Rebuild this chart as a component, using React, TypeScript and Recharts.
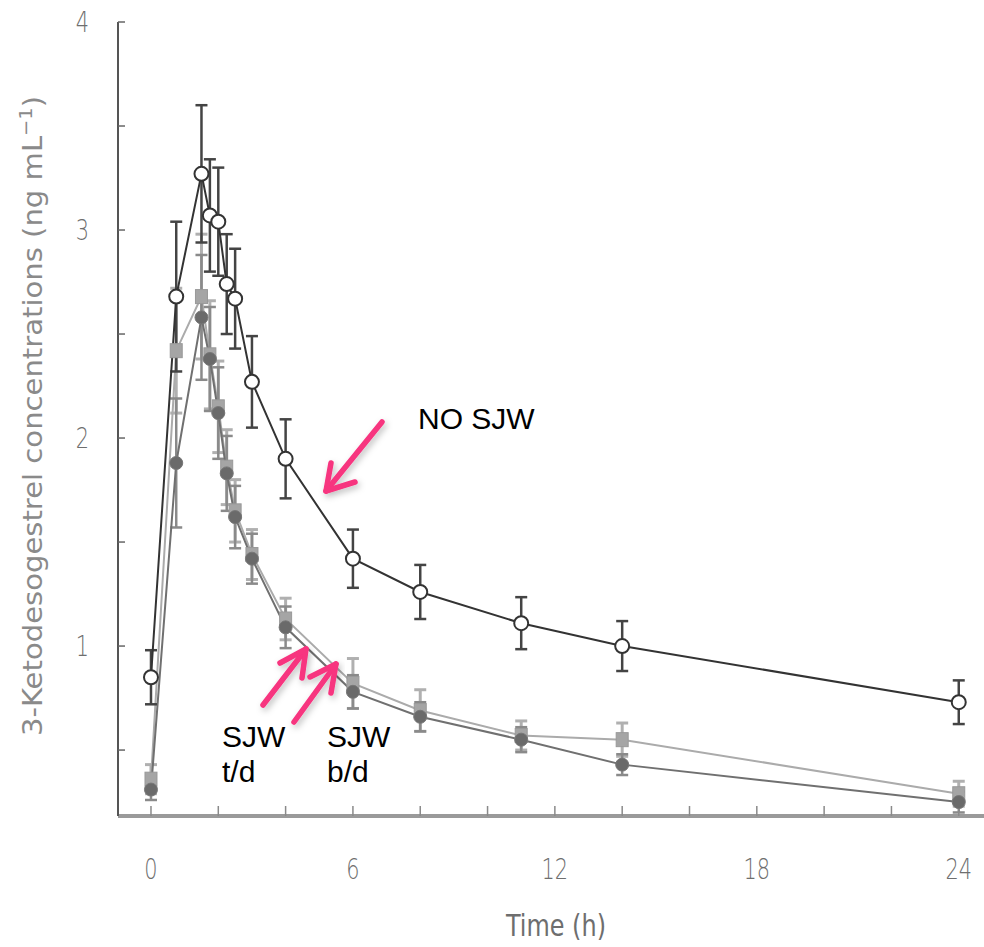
import React from 'react';
import { ComposedChart, Line, XAxis, YAxis, ErrorBar } from 'recharts';

// Time points (h)
const time = [0, 0.75, 1.5, 1.75, 2, 2.25, 2.5, 3, 4, 6, 8, 11, 14, 24];
// NO SJW (open circles)
const noSJW = [0.85, 2.68, 3.27, 3.07, 3.04, 2.74, 2.67, 2.27, 1.9, 1.42, 1.26, 1.11, 1.0, 0.73];
const noSJWErr = [0.13, 0.36, 0.33, 0.27, 0.26, 0.24, 0.24, 0.22, 0.19, 0.14, 0.13, 0.125, 0.12, 0.105];
// SJW t/d (dark grey filled circles)
const sjwTD = [0.31, 1.88, 2.58, 2.38, 2.12, 1.83, 1.62, 1.42, 1.09, 0.78, 0.66, 0.55, 0.43, 0.25];
const sjwTDErr = [0.05, 0.31, 0.3, 0.25, 0.22, 0.18, 0.15, 0.12, 0.1, 0.08, 0.07, 0.06, 0.05, 0.05];
// SJW b/d (light grey squares)
const sjwBD = [0.36, 2.42, 2.68, 2.4, 2.15, 1.86, 1.65, 1.44, 1.13, 0.82, 0.69, 0.57, 0.55, 0.29];
const sjwBDErr = [0.07, 0.3, 0.3, 0.26, 0.22, 0.18, 0.15, 0.12, 0.1, 0.12, 0.1, 0.07, 0.08, 0.06];

const xTicks = [0, 2, 4, 6, 8, 10, 12, 14, 16, 18, 20, 22, 24];
const xLabelled = [0, 6, 12, 18, 24];
const yTicks = [0.5, 1, 1.5, 2, 2.5, 3, 3.5, 4];
const yLabelled = [1, 2, 3, 4];

const data = time.map((t, i) => ({
  t,
  no: noSJW[i],
  noErr: noSJWErr[i],
  td: sjwTD[i],
  tdErr: sjwTDErr[i],
  bd: sjwBD[i],
  bdErr: sjwBDErr[i],
}));

const FONT = "'DejaVu Sans', 'Liberation Sans', sans-serif";
const PINK = '#f7347f';
const TICK_FILL = '#6e6e6e';

const SquareDot = (p: any) => {
  if (p.cx == null || p.cy == null) return <g key={p.index} />;
  return <rect key={p.index} x={p.cx - 6} y={p.cy - 7} width={12} height={14} fill="#a5a5a5" stroke="#999" strokeWidth={1} />;
};

const XTick = (p: any) => {
  const v = p.payload?.value;
  if (!xLabelled.includes(v)) return <g />;
  return (
    <text
      x={p.x}
      y={p.y}
      dy="0.74em"
      textAnchor="middle"
      fill={TICK_FILL}
      fontFamily={FONT}
      fontSize={29}
      fontWeight={300}
      transform={`translate(${p.x},0) scale(0.72,1) translate(${-p.x},0)`}
    >
      {v}
    </text>
  );
};

const YTick = (p: any) => {
  const v = p.payload?.value;
  if (!yLabelled.includes(v)) return <g />;
  return (
    <text
      x={p.x}
      y={p.y}
      dy="0.36em"
      textAnchor="end"
      fill={TICK_FILL}
      fontFamily={FONT}
      fontSize={29}
      fontWeight={300}
      transform={`translate(${p.x},0) scale(0.72,1) translate(${-p.x},0)`}
    >
      {v}
    </text>
  );
};

const YLabel = () => (
  <text
    transform="translate(42, 416) rotate(-90)"
    textAnchor="middle"
    fill="#8a8a8a"
    fontFamily={FONT}
    fontSize={27}
    textLength={640}
    lengthAdjust="spacingAndGlyphs"
  >
    3-Ketodesogestrel concentrations (ng mL
    <tspan dy={-10} fontSize={18}>−1</tspan>
    <tspan dy={10}>)</tspan>
  </text>
);

const Arrow = ({ x1, y1, x2, y2, a1, a2 }: any) => (
  <g stroke={PINK} strokeWidth={5.5} strokeLinecap="round" strokeLinejoin="round" fill="none" filter="url(#shadow)">
    <line x1={x1} y1={y1} x2={x2} y2={y2} />
    <polyline points={`${a1[0]},${a1[1]} ${x2},${y2} ${a2[0]},${a2[1]}`} />
  </g>
);

export default function App() {
  return (
    <div style={{ position: 'absolute', left: 0, top: 0, width: 984, height: 947, background: '#fff' }}>
      <ComposedChart
        width={984}
        height={947}
        data={data}
        margin={{ top: 22, right: 0, bottom: 0, left: 0 }}
      >
        <XAxis
          type="number"
          dataKey="t"
          domain={[-0.98, 24.75]}
          ticks={xTicks}
          allowDataOverflow
          interval={0}
          height={131}
          axisLine={{ stroke: '#9a9a9a', strokeWidth: 4 }}
          tickLine={{ stroke: '#8a8a8a', strokeWidth: 1.5 }}
          tickSize={-10}
          tickMargin={52}
          tick={XTick}
          label={{
            value: 'Time (h)',
            position: 'insideBottom',
            offset: 11,
            dx: 5,
            fill: TICK_FILL,
            fontSize: 30,
            fontFamily: "'DejaVu Sans Condensed', 'DejaVu Sans', sans-serif",
            textLength: 100,
            lengthAdjust: 'spacingAndGlyphs',
          }}
        />
        <YAxis
          type="number"
          domain={[0.183, 4]}
          ticks={yTicks}
          allowDataOverflow
          interval={0}
          width={118}
          axisLine={{ stroke: '#555', strokeWidth: 2 }}
          tickLine={{ stroke: '#666', strokeWidth: 1.5 }}
          tickSize={-7}
          tickMargin={36}
          tick={YTick}
        />
        <Line
          dataKey="bd"
          type="linear"
          stroke="#ababab"
          strokeWidth={2}
          dot={SquareDot}
          activeDot={false}
          isAnimationActive={false}
        >
          <ErrorBar dataKey="bdErr" direction="y" width={6} stroke="#b0b0b0" strokeWidth={3} />
        </Line>
        <Line
          dataKey="td"
          type="linear"
          stroke="#707070"
          strokeWidth={2}
          dot={{ r: 6.5, fill: '#6a6a6a', stroke: '#777', strokeWidth: 1 }}
          activeDot={false}
          isAnimationActive={false}
        >
          <ErrorBar dataKey="tdErr" direction="y" width={6} stroke="#8a8a8a" strokeWidth={2.5} />
        </Line>
        <Line
          dataKey="no"
          type="linear"
          stroke="#333"
          strokeWidth={2}
          dot={{ r: 7, fill: '#fff', stroke: '#333', strokeWidth: 2 }}
          activeDot={false}
          isAnimationActive={false}
        >
          <ErrorBar dataKey="noErr" direction="y" width={6} stroke="#444" strokeWidth={2.5} />
        </Line>
      </ComposedChart>
      <svg
        width={984}
        height={947}
        style={{ position: 'absolute', left: 0, top: 0, pointerEvents: 'none' }}
      >
        <defs>
          <filter id="shadow" x="-20%" y="-20%" width="140%" height="140%">
            <feDropShadow dx="2" dy="3" stdDeviation="3" floodColor="#000" floodOpacity="0.25" />
          </filter>
        </defs>
        <YLabel />
        <g fontFamily="'Liberation Sans', Arial, sans-serif" fontSize={30} fill="#000">
          <text x={418} y={429}>NO SJW</text>
          <text x={222} y={747}>SJW</text>
          <text x={222} y={782}>t/d</text>
          <text x={327} y={747}>SJW</text>
          <text x={327} y={782}>b/d</text>
        </g>
        <Arrow x1={382} y1={422} x2={326} y2={491} a1={[331, 463]} a2={[355, 482]} />
        <Arrow x1={263} y1={705} x2={306} y2={649} a1={[280, 663]} a2={[302, 678]} />
        <Arrow x1={294} y1={722} x2={336} y2={664} a1={[310, 677]} a2={[331, 693]} />
      </svg>
    </div>
  );
}
